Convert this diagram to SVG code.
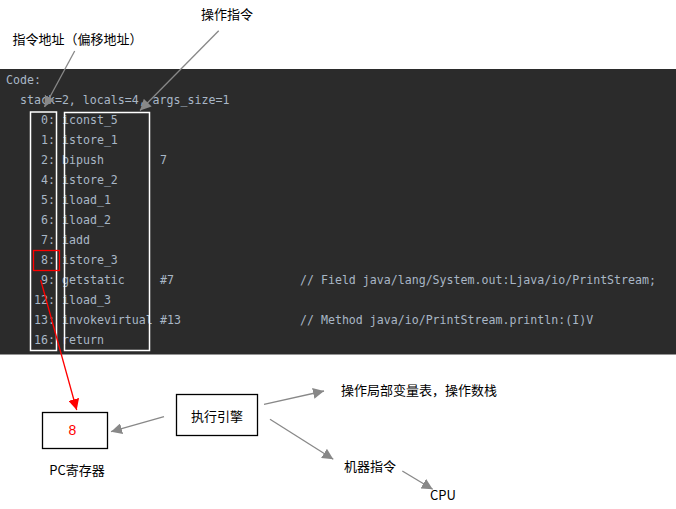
<svg xmlns="http://www.w3.org/2000/svg" width="676" height="509" viewBox="0 0 676 509">
<defs>
<style>
.code{font-family:"DejaVu Sans Mono","Liberation Mono",monospace;font-size:11.6px;fill:#a9b7c6}
.lbl{font-family:"Noto Sans CJK SC","Noto Sans",sans-serif;font-size:13px;fill:#000}
.wbox{fill:none;stroke:#fff;stroke-width:1.5}
.bbox{fill:#fff;stroke:#000;stroke-width:1.3}
.g{stroke:#888;stroke-width:1.3;fill:none}
.r{stroke:#f00;stroke-width:1.3;fill:none}
</style>
<marker id="ag" viewBox="0 0 10 10" refX="10" refY="5" markerWidth="11" markerHeight="11" markerUnits="userSpaceOnUse" orient="auto">
<path d="M0,0 L10,5 L0,10 z" fill="#888"/>
</marker>
<marker id="ar" viewBox="0 0 10 10" refX="10" refY="5" markerWidth="11" markerHeight="11" markerUnits="userSpaceOnUse" orient="auto">
<path d="M0,0 L10,5 L0,10 z" fill="#f00"/>
</marker>
</defs>
<rect width="676" height="509" fill="#fff"/>
<g id="code-panel">
<rect x="0" y="69" width="676" height="285.5" fill="#2b2b2b"/>
<text class="code" x="6" y="84">Code:</text>
<text class="code" x="20" y="104">stack=2, locals=4, args_size=1</text>
<g class="code">
<text x="41" y="124">0:</text><text x="62" y="124">iconst_5</text>
<text x="41" y="144">1:</text><text x="62" y="144">istore_1</text>
<text x="41" y="164">2:</text><text x="62" y="164">bipush</text><text x="160" y="164">7</text>
<text x="41" y="184">4:</text><text x="62" y="184">istore_2</text>
<text x="41" y="204">5:</text><text x="62" y="204">iload_1</text>
<text x="41" y="224">6:</text><text x="62" y="224">iload_2</text>
<text x="41" y="244">7:</text><text x="62" y="244">iadd</text>
<text x="41" y="264">8:</text><text x="62" y="264">istore_3</text>
<text x="41" y="284">9:</text><text x="62" y="284">getstatic</text><text x="160" y="284">#7</text><text x="300" y="284">// Field java/lang/System.out:Ljava/io/PrintStream;</text>
<text x="34" y="304">12:</text><text x="62" y="304">iload_3</text>
<text x="34" y="324">13:</text><text x="62" y="324">invokevirtual</text><text x="160" y="324">#13</text><text x="300" y="324">// Method java/io/PrintStream.println:(I)V</text>
<text x="34" y="344">16:</text><text x="62" y="344">return</text>
</g>
<rect class="wbox" x="30.5" y="112" width="26" height="238.5"/>
<rect class="wbox" x="64.5" y="112.5" width="85" height="238"/>
<rect x="33.5" y="250.5" width="26" height="20" fill="none" stroke="#f00" stroke-width="1.3"/>
</g>
<g id="label-addr">
<text class="lbl" x="12.5" y="44">指令地址（偏移地址）</text>
</g>
<g id="label-op">
<text class="lbl" x="201" y="19">操作指令</text>
</g>
<g id="pc">
<rect class="bbox" x="42.5" y="412.5" width="65" height="36"/>
<text x="72.5" y="435" text-anchor="middle" font-family="Liberation Sans,Arial,sans-serif" font-size="14" fill="#f00">8</text>
<text class="lbl" x="77" y="475" text-anchor="middle">PC寄存器</text>
</g>
<g id="engine">
<rect class="bbox" x="176.5" y="394.5" width="81" height="41"/>
<text class="lbl" x="217" y="421" text-anchor="middle" font-size="14">执行引擎</text>
</g>
<g id="label-local">
<text class="lbl" x="341" y="395">操作局部变量表，操作数栈</text>
</g>
<g id="label-machine">
<text class="lbl" x="344" y="471">机器指令</text>
</g>
<g id="cpu">
<text class="lbl" x="430" y="500">CPU</text>
</g>
<g id="connectors">
<line class="g" x1="74.7" y1="51" x2="44.5" y2="107" marker-end="url(#ag)"/>
<line class="g" x1="218.7" y1="30.7" x2="140" y2="110.5" marker-end="url(#ag)"/>
<line class="r" x1="40.7" y1="280" x2="76.7" y2="410" marker-end="url(#ar)"/>
<line class="g" x1="164" y1="416.7" x2="111" y2="431.7" marker-end="url(#ag)"/>
<line class="g" x1="264" y1="404.3" x2="324" y2="391" marker-end="url(#ag)"/>
<line class="g" x1="270" y1="419.3" x2="333.3" y2="459.3" marker-end="url(#ag)"/>
<line class="g" x1="402.3" y1="471" x2="432.7" y2="489.3" marker-end="url(#ag)"/>
</g>
</svg>
